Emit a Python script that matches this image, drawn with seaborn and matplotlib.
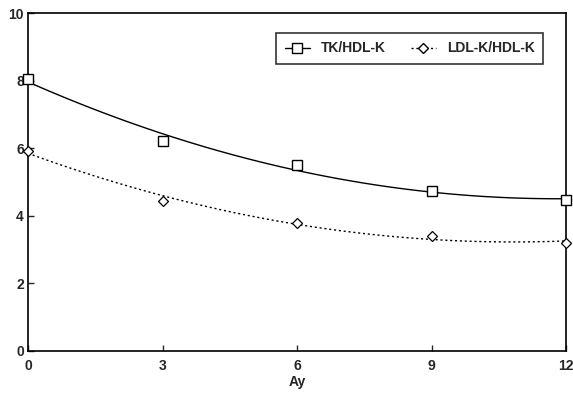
import numpy as np
import pandas as pd
import matplotlib
matplotlib.use("Agg")
import matplotlib.pyplot as plt
from matplotlib.lines import Line2D
import seaborn as sns

# --- Datos ---
ay = [0, 3, 6, 9, 12]
tk_hdl = [8.05, 6.2, 5.5, 4.72, 4.47]
ldl_hdl = [5.92, 4.44, 3.79, 3.4, 3.2]
x_ticks = [0, 3, 6, 9, 12]
y_ticks = [0, 2, 4, 6, 8, 10]

df = pd.DataFrame({"Ay": ay, "TK/HDL-K": tk_hdl, "LDL-K/HDL-K": ldl_hdl})

sns.set_style("white")
plt.rcParams['font.family'] = ['Liberation Sans', 'DejaVu Sans']

fig = plt.figure(figsize=(5.73, 3.97), dpi=100)
ax = fig.add_axes([0.049, 0.116, 0.939, 0.851])

# ajuste cuadratico (curvas suavizadas)
sns.regplot(data=df, x="Ay", y="TK/HDL-K", order=2, ci=None, scatter=False, ax=ax,
            line_kws={"color": "black", "lw": 1.0, "ls": "-"}, truncate=True)
sns.regplot(data=df, x="Ay", y="LDL-K/HDL-K", order=2, ci=None, scatter=False, ax=ax,
            line_kws={"color": "black", "lw": 1.0, "ls": (0, (1.5, 2))}, truncate=True)

ax.plot(df["Ay"], df["TK/HDL-K"], ls="none", marker="s", ms=7, mfc="white",
        mec="black", mew=1.0, clip_on=False, zorder=5)
ax.plot(df["Ay"], df["LDL-K/HDL-K"], ls="none", marker="D", ms=5.5, mfc="white",
        mec="black", mew=0.9, clip_on=False, zorder=5)

ax.set_xlim(0, 12)
ax.set_ylim(0, 10)
ax.set_xticks(x_ticks)
ax.set_yticks(y_ticks)
ax.set_xticklabels([str(t) for t in x_ticks], fontweight="bold", fontsize=10)
ax.set_yticklabels([str(t) for t in y_ticks], fontweight="bold", fontsize=10)
ax.tick_params(axis="x", direction="in", length=4, width=1, pad=6, bottom=True)
ax.tick_params(axis="y", direction="in", length=4, width=1, pad=3, left=True)
ax.set_xlabel("Ay", fontweight="bold", fontsize=10, labelpad=1)
ax.set_ylabel("")
for s in ax.spines.values():
    s.set_color("black")
    s.set_linewidth(1.2)

handles = [
    Line2D([], [], color="black", lw=1.0, ls="-", marker="s", ms=7, mfc="white", mec="black"),
    Line2D([], [], color="black", lw=1.0, ls=(0, (1.5, 2)), marker="D", ms=5.5, mfc="white", mec="black"),
]
leg = ax.legend(handles, ["TK/HDL-K", "LDL-K/HDL-K"], loc="upper right",
                bbox_to_anchor=(0.957, 0.941), borderaxespad=0, ncol=2, frameon=True,
                fancybox=False, handlelength=1.8, columnspacing=1.8, borderpad=0.6,
                prop={"weight": "bold", "size": 10})
leg.get_frame().set_edgecolor("black")
leg.get_frame().set_linewidth(1.2)

fig.savefig("out.png", dpi=100)
